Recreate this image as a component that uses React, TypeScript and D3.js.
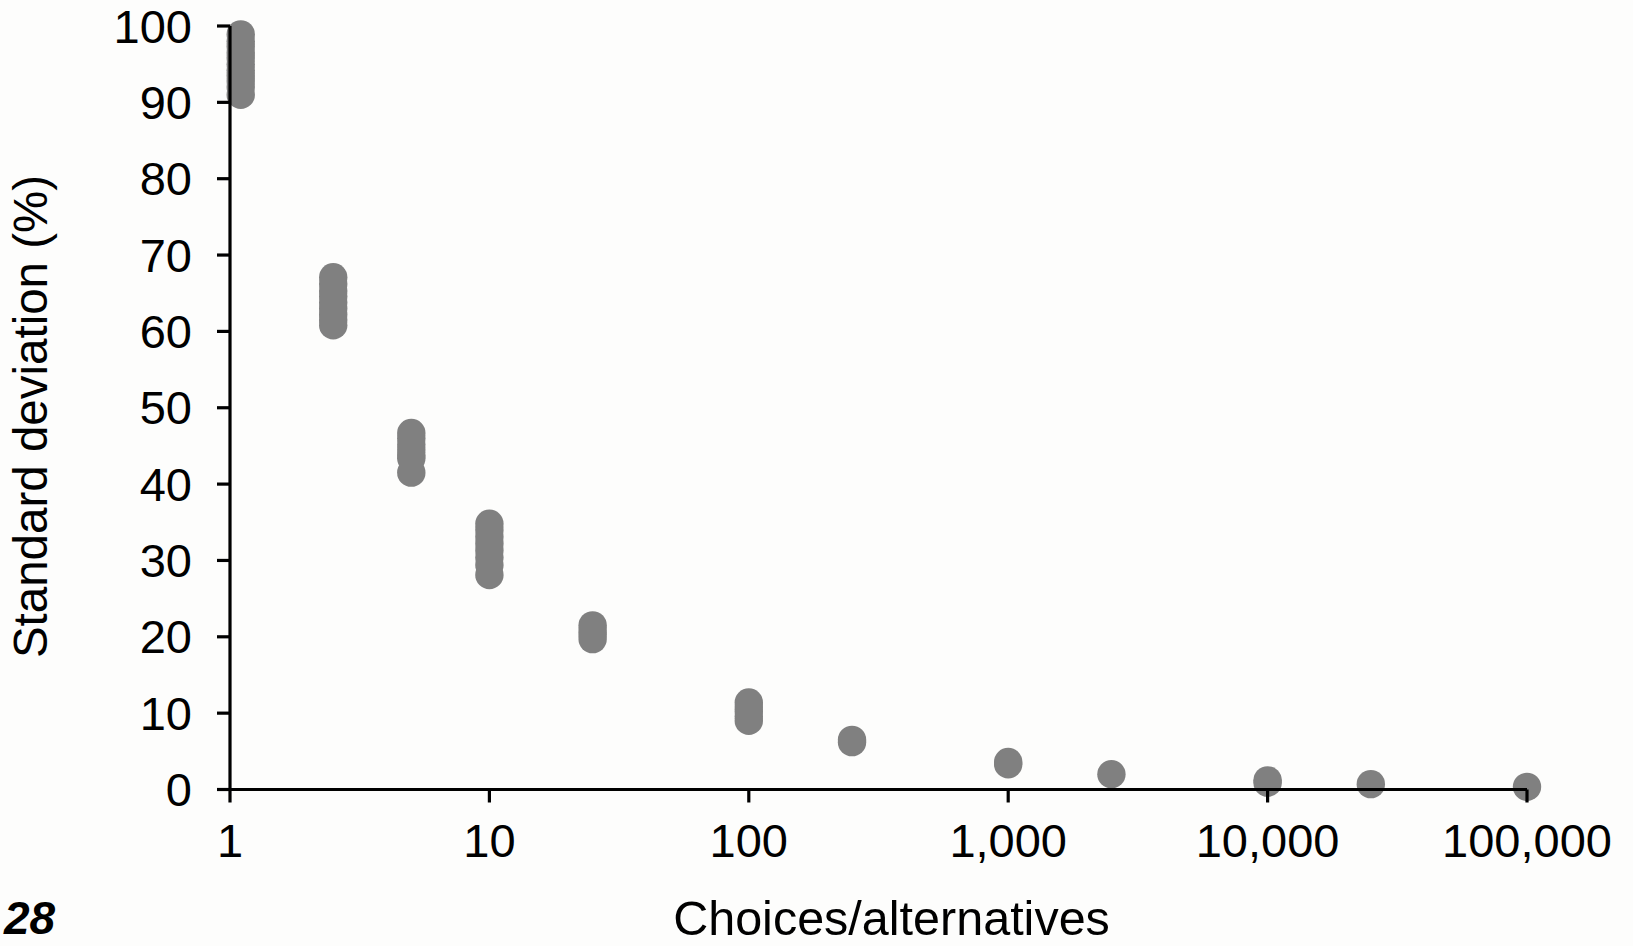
import React from "react";
import * as d3 from "d3";

const yTicks = [0, 10, 20, 30, 40, 50, 60, 70, 80, 90, 100];
const xTicks = [1, 10, 100, 1000, 10000, 100000];
const xTickLabels = ["1", "10", "100", "1,000", "10,000", "100,000"];

const choices = [1.1, 2.5, 5, 10, 25, 100, 250, 1000, 2500, 10000, 25000, 100000];
const sdValues: number[][] = [
  [98.9, 98, 97.3, 96.5, 95.8, 95, 94.2, 93.5, 92.8, 92, 91],
  [67.1, 66.2, 65.3, 64.6, 63.8, 63, 62.2, 61.5, 60.8],
  [46.7, 46, 45.2, 44.5, 43.8, 43.4, 41.5],
  [34.8, 34, 33.1, 32.2, 31.3, 30.4, 29.4, 28.1],
  [21.5, 20.9, 20.3, 19.7],
  [11.4, 10.8, 10.2, 9.6, 9.0],
  [6.5, 6.2],
  [3.6, 3.3],
  [2.0],
  [1.2, 0.9],
  [0.7],
  [0.35],
];

const xTitle = "Choices/alternatives";
const yTitle = "Standard deviation (%)";
const figLabel = "28";

export default function App() {
  const W = 1633;
  const H = 946;
  const x = d3.scaleLog().domain([1, 100000]).range([230, 1527]);
  const y = d3.scaleLinear().domain([0, 100]).range([789.5, 26]);
  const font = "'Liberation Sans', Arial, sans-serif";
  const tickLen = 13;
  const points = choices.flatMap((c, i) => sdValues[i].map((v) => ({ c, v })));

  return (
    <svg
      width={W}
      height={H}
      style={{ position: "absolute", left: 0, top: 0, background: "#fdfdfc" }}
    >
      <rect x={0} y={0} width={W} height={H} fill="#fdfdfc" />
      {points.map((p, i) => (
        <circle key={i} cx={x(p.c)} cy={y(p.v)} r={14.2} fill="#808080" />
      ))}
      <line x1={x(1)} x2={x(1)} y1={y(0)} y2={y(100)} stroke="#000" strokeWidth={3.2} />
      <line x1={x(1)} x2={x(100000)} y1={y(0)} y2={y(0)} stroke="#000" strokeWidth={3.2} />
      {yTicks.map((t) => (
        <g key={"y" + t}>
          <line x1={x(1) - tickLen} x2={x(1)} y1={y(t)} y2={y(t)} stroke="#000" strokeWidth={3.2} />
          <text
            x={192}
            y={y(t)}
            dy="0.355em"
            textAnchor="end"
            fontFamily={font}
            fontSize={47}
            fill="#000"
          >
            {t}
          </text>
        </g>
      ))}
      {xTicks.map((t, i) => (
        <g key={"x" + t}>
          <line x1={x(t)} x2={x(t)} y1={y(0)} y2={y(0) + tickLen} stroke="#000" strokeWidth={3.2} />
          <text
            x={x(t)}
            y={857}
            textAnchor="middle"
            fontFamily={font}
            fontSize={47}
            fill="#000"
          >
            {xTickLabels[i]}
          </text>
        </g>
      ))}
      <text x={891.5} y={935} textAnchor="middle" fontFamily={font} fontSize={48.5} fill="#000">
        {xTitle}
      </text>
      <text
        transform={`translate(47,416.5) rotate(-90)`}
        textAnchor="middle"
        fontFamily={font}
        fontSize={47.5}
        fill="#000"
      >
        {yTitle}
      </text>
      <text
        x={4}
        y={934}
        fontFamily={font}
        fontSize={46}
        fontWeight="bold"
        fontStyle="italic"
        fill="#000"
      >
        {figLabel}
      </text>
    </svg>
  );
}
